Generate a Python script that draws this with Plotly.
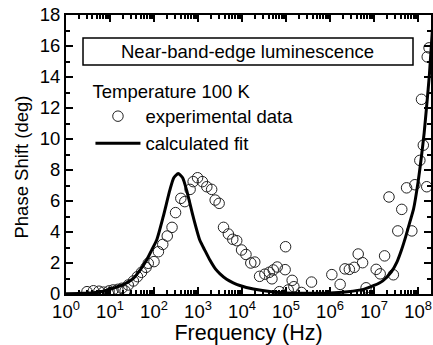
import plotly.graph_objects as go

# Experimental data (frequency in Hz, phase shift in deg)
exp_freq = [3.0, 4.2, 5.6, 7.1, 9.5, 11.7, 15, 18.6, 22, 26, 34, 42, 52, 66, 74, 100,
            126, 158, 200, 257, 309, 407, 501, 661, 776, 977, 1259, 1585, 2042, 2455,
            3020, 3802, 4898, 6166, 7586, 9772, 12300, 15850, 19500, 25100, 33100,
            41700, 47900, 51300, 63100, 70800, 95500, 97700, 112000, 138000, 151000,
            224000, 380000, 1.1e6, 1.7e6, 2.19e6, 2.75e6, 3.55e6, 4.37e6, 5.5e6, 6.6e6,
            1.12e7, 1.38e7, 1.74e7, 2.19e7, 2.75e7, 3.47e7, 4.27e7, 5.5e7, 7.24e7,
            8.5e7, 1.1e8, 1.2e8, 1.32e8, 1.58e8, 1.62e8, 1.78e8]
exp_phase = [0.15, 0.21, 0.18, 0.12, 0.2, 0.26, 0.3, 0.37, 0.2, 0.58, 0.84, 1.12, 1.40,
             1.72, 1.98, 2.09, 2.73, 3.2, 3.74, 4.3, 5.25, 6.17, 5.96, 6.75, 7.25, 7.5,
             7.25, 6.92, 6.75, 6.06, 5.85, 4.3, 3.87, 3.53, 3.44, 2.84, 2.55, 2.0, 2.06,
             1.14, 1.28, 1.4, 0.98, 1.55, 1.74, 0.15, 1.57, 3.05, 0.26, 0.88, 0.47, 0.1,
             0.77, 1.25, 0.62, 1.62, 1.59, 1.72, 2.58, 2.02, 0.4, 1.59, 1.3, 2.46, 6.26,
             1.24, 4.07, 5.46, 6.85, 4.07, 7.05, 8.62, 12.56, 9.6, 6.92, 15.3, 15.88]

# Calculated fit
fit_freq = [1.0, 2.0, 4.2, 7.1, 11.7, 20, 34, 50, 68, 89, 115, 162, 229, 282, 355,
            447, 550, 776, 1096, 1413, 1862, 2512, 3162, 4467, 6310, 8913, 18200,
            51300, 1e5, 3.16e5, 1e6, 2.5e6, 5.75e6, 1e7, 1.58e7, 2.51e7, 3.31e7,
            4.17e7, 5.25e7, 6.61e7, 7.94e7, 1e8, 1.2e8, 1.38e8, 1.58e8, 1.82e8, 2.14e8]
fit_phase = [0.02, 0.04, 0.08, 0.18, 0.37, 0.6, 1.01, 1.6, 2.19, 2.85, 3.48, 4.99, 6.7,
             7.5, 7.77, 7.5, 6.7, 4.99, 3.48, 2.85, 2.19, 1.6, 1.3, 0.95, 0.72, 0.55,
             0.32, 0.13, 0.07, 0.05, 0.06, 0.15, 0.3, 0.55, 0.85, 1.45, 2.05, 2.8, 3.7,
             4.7, 5.5, 7.2, 8.9, 10.4, 12.2, 14.2, 17.2]

x_tickvals = [1, 10, 100, 1e3, 1e4, 1e5, 1e6, 1e7, 1e8]
x_ticktext = ["10<sup>%d</sup>" % i for i in range(9)]
y_tickvals = [0, 2, 4, 6, 8, 10, 12, 14, 16, 18]

FONT = "Arial, Liberation Sans, sans-serif"

fig = go.Figure()
fig.add_trace(go.Scatter(
    x=exp_freq, y=exp_phase, mode="markers", name="experimental data",
    marker=dict(symbol="circle-open", size=10.5, color="#222222", line=dict(width=1)),
))
fig.add_trace(go.Scatter(
    x=fit_freq, y=fit_phase, mode="lines", name="calculated fit",
    line=dict(color="black", width=3, shape="spline", smoothing=0.6),
))

axis_common = dict(
    showline=True, linecolor="black", linewidth=2, mirror="allticks",
    ticks="inside", tickcolor="black", tickwidth=2, ticklen=7,
    showgrid=False, zeroline=False, automargin=False,
    tickfont=dict(family=FONT, size=18.5, color="black"),
)

fig.update_xaxes(
    type="log", range=[0, 8.295], tickvals=x_tickvals, ticktext=x_ticktext,
    title=dict(text="Frequency (Hz)", font=dict(family=FONT, size=21.5, color="black")),
    minor=dict(ticks="inside", ticklen=4, tickwidth=1.5, tickcolor="black", dtick="D1"),
    **axis_common,
)
fig.update_yaxes(
    range=[0, 18], tickvals=y_tickvals,
    minor=dict(ticks="inside", ticklen=4, tickwidth=1.5, tickcolor="black", dtick=1),
    **axis_common,
)

# y-axis title (placed like the reference, slightly below the plot centre)
fig.add_annotation(xref="paper", yref="paper", x=-0.122, y=0.455,
                   xanchor="center", yanchor="middle", textangle=-90,
                   text="Phase Shift (deg)", showarrow=False,
                   font=dict(family=FONT, size=18.5, color="black"))

fig.add_shape(type="rect", xref="paper", yref="paper",
              x0=0.0466, x1=0.9507, y0=0.821, y1=0.9176,
              line=dict(color="black", width=1.5), fillcolor="rgba(0,0,0,0)")
fig.add_annotation(xref="paper", yref="paper", x=0.4986, y=0.869,
                   xanchor="center", yanchor="middle",
                   text="Near-band-edge luminescence", showarrow=False,
                   font=dict(family=FONT, size=18.5, color="black"))

fig.update_layout(
    width=433, height=345,
    margin=dict(l=66, r=2, t=15, b=51),
    plot_bgcolor="white", paper_bgcolor="white",
    showlegend=True,
    legend=dict(
        x=0.067, y=0.79, xanchor="left", yanchor="top",
        bgcolor="rgba(0,0,0,0)", borderwidth=0,
        font=dict(family=FONT, size=18.5, color="black"),
        title=dict(text="Temperature 100 K", font=dict(family=FONT, size=18.5, color="black")),
        itemwidth=45,
    ),
)

fig.write_html("out.html", config={"displayModeBar": False},
               post_script="document.body.style.margin='0';document.body.style.overflow='hidden';")
